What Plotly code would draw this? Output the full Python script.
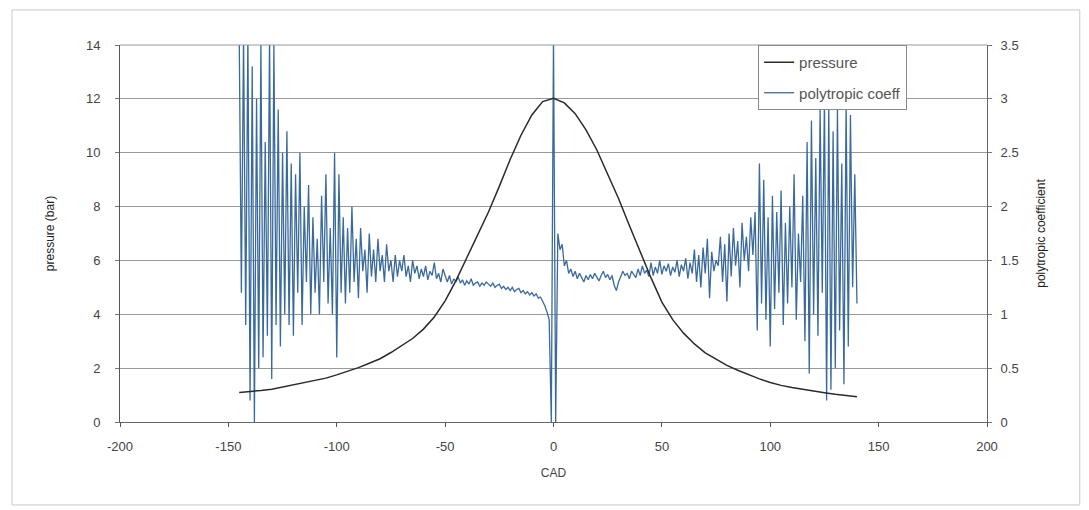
import plotly.graph_objects as go

# ---------------- data ----------------
pressure_cad = list(range(-145, 141, 5))
pressure_bar = [
    1.10, 1.13, 1.17, 1.22, 1.30, 1.38, 1.46, 1.54, 1.63, 1.75,   # -145 .. -100
    1.88, 2.02, 2.18, 2.35, 2.58, 2.83, 3.10, 3.45, 3.90, 4.50,   # -95 .. -50
    5.25, 6.10, 6.95, 7.80, 8.75, 9.75, 10.65, 11.40, 11.90, 12.02,  # -45 .. 0
    11.85, 11.45, 10.85, 10.10, 9.20, 8.30, 7.30, 6.30, 5.35, 4.45,  # 5 .. 50
    3.80, 3.30, 2.90, 2.57, 2.32, 2.10, 1.92, 1.75, 1.60, 1.47,   # 55 .. 100
    1.36, 1.28, 1.21, 1.15, 1.09, 1.03, 0.98, 0.94,               # 105 .. 140
]

poly_start = -145
poly_coeff = [
    3.6, 1.2, 3.6, 0.9, 3.6, 0.2, 3.3, 0.0, 3.0, 0.5,            # -145
    3.5, 0.6, 2.6, 0.8, 3.6, 0.4, 3.5, 0.9, 2.9, 0.7,            # -135
    2.5, 1.0, 2.7, 0.9, 2.4, 0.8, 2.3, 1.2, 2.5, 0.9,            # -125
    2.0, 1.3, 2.2, 1.0, 1.9, 1.2, 1.7, 1.0, 2.1, 1.3,            # -115
    2.3, 1.1, 1.8, 1.0, 2.5, 0.6, 2.3, 1.2, 1.9, 1.1,            # -105
    1.8, 1.2, 2.0, 1.3, 1.7, 1.15, 1.8, 1.4, 1.6, 1.2,           # -95
    1.75, 1.35, 1.6, 1.3, 1.7, 1.4, 1.55, 1.3, 1.65, 1.4,        # -85
    1.5, 1.3, 1.55, 1.35, 1.5, 1.4, 1.55, 1.35, 1.45, 1.3,       # -75
    1.5, 1.38, 1.45, 1.33, 1.42, 1.35, 1.45, 1.32, 1.4, 1.36,    # -65
    1.48, 1.33, 1.38, 1.3, 1.42, 1.35, 1.3, 1.36, 1.28, 1.33,    # -55
    1.30, 1.35, 1.29, 1.32, 1.27, 1.31, 1.28, 1.33, 1.27, 1.29,  # -45
    1.30, 1.26, 1.29, 1.27, 1.30, 1.28, 1.26, 1.29, 1.25, 1.27,  # -35
    1.28, 1.24, 1.26, 1.23, 1.25, 1.22, 1.25, 1.21, 1.23, 1.24,  # -25
    1.20, 1.22, 1.19, 1.21, 1.18, 1.20, 1.17, 1.19, 1.15, 1.16,  # -15
    1.12, 1.08, 1.02, 0.95, 0.0, 3.6, 0.0, 1.75, 1.6, 1.65,      # -5
    1.45, 1.5, 1.38, 1.42, 1.35, 1.4, 1.33, 1.38, 1.34, 1.30,    # 5
    1.36, 1.32, 1.37, 1.33, 1.38, 1.35, 1.31, 1.36, 1.40, 1.34,  # 15
    1.37, 1.32, 1.36, 1.27, 1.22, 1.30, 1.35, 1.40, 1.36, 1.38,  # 25
    1.33, 1.40, 1.37, 1.34, 1.42, 1.36, 1.45, 1.38, 1.41, 1.35,  # 35
    1.48, 1.36, 1.44, 1.38, 1.50, 1.37, 1.45, 1.40, 1.47, 1.36,  # 45
    1.44, 1.39, 1.50, 1.35, 1.46, 1.40, 1.52, 1.33, 1.48, 1.38,  # 55
    1.60, 1.30, 1.55, 1.25, 1.62, 1.38, 1.70, 1.15, 1.58, 1.40,  # 65
    1.50, 1.45, 1.72, 1.30, 1.65, 1.12, 1.75, 1.35, 1.80, 1.45,  # 75
    1.68, 1.25, 1.85, 1.50, 1.72, 1.40, 1.90, 1.55, 1.95, 0.85,  # 85
    2.40, 1.10, 2.25, 0.95, 1.90, 0.70, 2.10, 1.05, 1.95, 1.20,  # 95
    2.15, 0.90, 1.85, 1.10, 2.00, 1.25, 2.30, 0.95, 1.75, 1.30,  # 105
    2.10, 0.75, 2.60, 0.45, 2.80, 1.00, 2.45, 0.80, 2.90, 1.20,  # 115
    3.00, 0.20, 2.95, 0.30, 2.70, 0.50, 2.90, 0.85, 2.40, 0.35,  # 125
    2.95, 0.70, 2.85, 1.25, 2.30, 1.10,                          # 135
]
poly_cad = [poly_start + i for i in range(len(poly_coeff))]

x_ticks = [-200, -150, -100, -50, 0, 50, 100, 150, 200]
x_tick_text = ["-200", "-150", "-100", "-50", "0", "50", "100", "150", "200"]
p_ticks = [0, 2, 4, 6, 8, 10, 12, 14]
n_ticks = [0, 0.5, 1, 1.5, 2, 2.5, 3, 3.5]
n_tick_text = ["0", "0.5", "1", "1.5", "2", "2.5", "3", "3.5"]

# ---------------- figure ----------------
FONT = "Liberation Sans, Arial, sans-serif"
TXT = "#444444"

fig = go.Figure()
fig.add_trace(go.Scatter(
    x=pressure_cad, y=pressure_bar, name="pressure", mode="lines",
    yaxis="y2", legendgroup="a",
    line=dict(color="#2a2a2a", width=1.5),
))
fig.add_trace(go.Scatter(
    x=poly_cad, y=poly_coeff, name="polytropic coeff", mode="lines",
    yaxis="y", legendgroup="b",
    line=dict(color="#3a6a9c", width=1.3),
))

fig.update_layout(
    width=1089, height=510,
    margin=dict(l=120, r=102, t=45, b=88),
    paper_bgcolor="white", plot_bgcolor="white",
    font=dict(family=FONT, size=13, color=TXT),
    showlegend=True,
    legend=dict(
        x=0.736, y=1.0, xanchor="left", yanchor="top",
        bgcolor="white", bordercolor="#8a8a8a", borderwidth=1,
        font=dict(family=FONT, size=15, color="#555555"),
        tracegroupgap=8,
    ),
    xaxis=dict(
        range=[-200, 200], tickvals=x_ticks, ticktext=x_tick_text,
        ticks="outside", ticklen=4,
        tickcolor="#555555", showline=True, linecolor="#666666",
        showgrid=False, zeroline=False, ticklabelstandoff=8,
        tickfont=dict(size=13, color=TXT),
        title=dict(text="CAD", font=dict(size=12, color=TXT), standoff=16),
    ),
    yaxis=dict(
        range=[0, 3.5], side="right", tickvals=n_ticks, ticktext=n_tick_text,
        ticks="outside", ticklen=4, tickcolor="#777777",
        showline=True, linecolor="#666666",
        showgrid=True, gridcolor="#9a9a9a", gridwidth=1, zeroline=False,
        ticklabelstandoff=6, tickfont=dict(size=13, color=TXT),
        title=dict(text="polytropic coefficient", font=dict(size=12, color="#222222"), standoff=18),
    ),
    yaxis2=dict(
        range=[0, 14], side="left", overlaying="y", tickvals=p_ticks,
        ticks="outside", ticklen=4, tickcolor="#777777",
        showline=True, linecolor="#555555",
        showgrid=False, zeroline=False,
        ticklabelstandoff=12, tickfont=dict(size=13, color=TXT),
        title=dict(text="pressure (bar)", font=dict(size=12, color="#222222"), standoff=28),
    ),
    shapes=[
        dict(type="line", xref="paper", yref="paper", x0=0, x1=1, y0=1, y1=1,
             line=dict(color="#9a9a9a", width=1)),
        dict(type="rect", xref="paper", yref="paper",
             x0=-0.1246, x1=1.107, y0=-0.22, y1=1.093,
             line=dict(color="#c8c8c8", width=1)),
    ],
)

fig.write_html("out.html")
